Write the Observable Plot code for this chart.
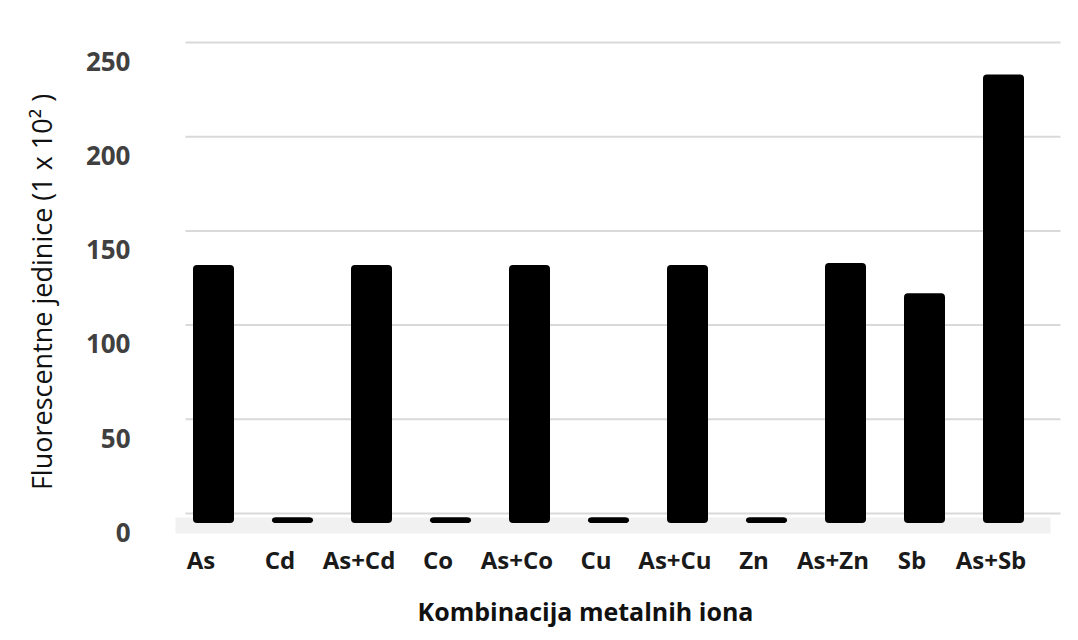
<!DOCTYPE html>
<html>
<head>
<meta charset="utf-8">
<script src="https://cdn.jsdelivr.net/npm/d3@7"></script>
<script src="https://cdn.jsdelivr.net/npm/@observablehq/plot@0.6"></script>
<style>
  html, body { margin: 0; padding: 0; background: #ffffff; }
  #chart { width: 1078px; height: 640px; overflow: hidden; }
</style>
</head>
<body>
<div id="chart"></div>
<script>
const categories = ["As", "Cd", "As+Cd", "Co", "As+Co", "Cu", "As+Cu", "Zn", "As+Zn", "Sb", "As+Sb"];
const values = [137, 3, 137, 3, 137, 3, 137, 3, 138, 122, 238];
const yTicks = [0, 50, 100, 150, 200, 250];
const yTitle = "Fluorescentne jedinice (1 x 10² )";
const xTitle = "Kombinacija metalnih iona";

const data = categories.map((c, i) => ({category: c, value: values[i]}));

const chart = Plot.plot({
  width: 1078,
  height: 640,
  marginLeft: 171.5,
  marginRight: 31.5,
  marginTop: 52,
  marginBottom: 117,
  style: {background: "#ffffff", overflow: "visible"},
  x: {domain: categories, paddingInner: 0.48, paddingOuter: 0.25, label: null},
  y: {domain: [0, 250], label: null},
  marks: [
    // floor band
    Plot.ruleY([0], {stroke: "#f1f1f1", strokeWidth: 16, dy: 2, dx: 4}),
    // back-wall gridlines
    Plot.ruleY(yTicks, {stroke: "#d9d9d9", strokeWidth: 2, dx: 14, dy: -10}),
    Plot.barY(data, {x: "category", y: "value", fill: "#000000", rx: 4}),
    Plot.axisY(yTicks, {
      tickSize: 0, tickPadding: 41.5, dy: 10,
      fontSize: 26, fontWeight: "bold", fill: "#404040",
      fontFamily: "Open Sans", label: null
    }),
    Plot.axisX({
      tickSize: 0, tickPadding: 28, dx: -13,
      fontSize: 24, fontWeight: "bold", fill: "#1a1a1a",
      fontFamily: "Open Sans", label: null
    }),
    Plot.text([yTitle], {
      frameAnchor: "left", dx: -129, dy: 4, rotate: -90,
      fontSize: 27, fontWeight: 500, fill: "#111111", fontFamily: "Open Sans", textAnchor: "middle"
    }),
    Plot.text([xTitle], {
      frameAnchor: "bottom", dx: -24, dy: 97,
      fontSize: 25, fontWeight: "bold", fill: "#111111", fontFamily: "Open Sans"
    })
  ]
});
document.getElementById("chart").appendChild(chart);
</script>
</body>
</html>
